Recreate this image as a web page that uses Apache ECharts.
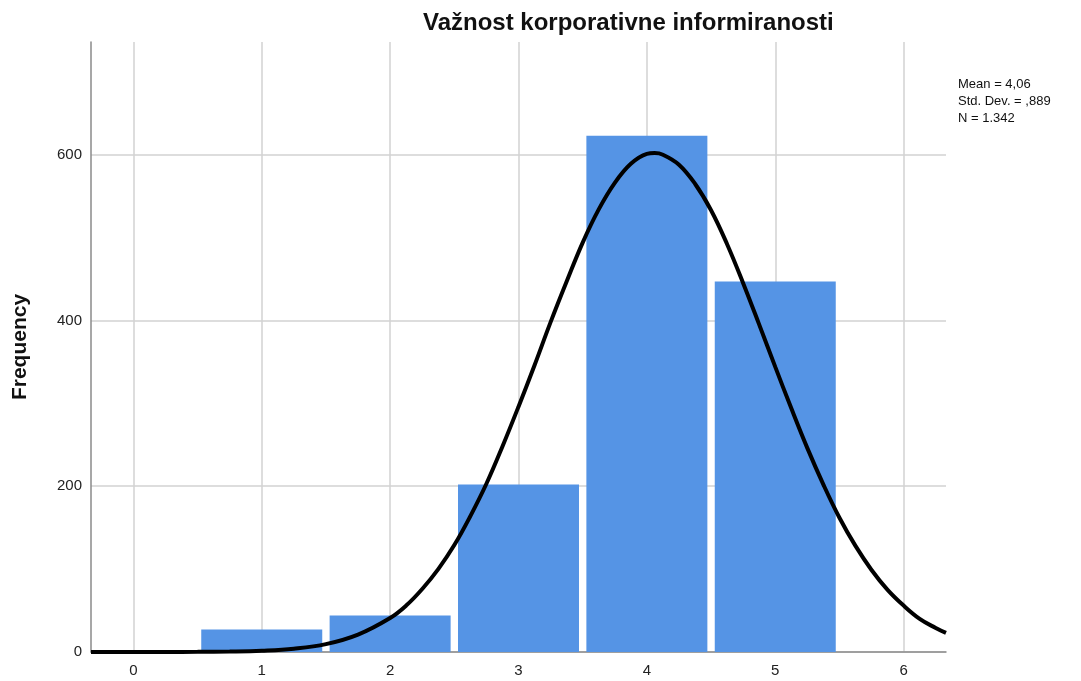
<!DOCTYPE html>
<html>
<head>
<meta charset="utf-8">
<script src="https://cdn.jsdelivr.net/npm/echarts@6/dist/echarts.min.js"></script>
<style>
	html, body { margin: 0; padding: 0; background: #fff; }
	#histChart { width: 1081px; height: 681px; }
</style>
</head>
<body>
<div id="histChart"></div>
<script>
	// histogram bins (value, frequency)
	var binValues = [1, 2, 3, 4, 5];
	var binCounts = [27, 44, 202, 623, 447];

	// fitted normal curve
	var curveX = [-0.33, 0, 0.25, 0.5, 0.75, 1, 1.25, 1.5, 1.75, 2, 2.125, 2.25, 2.375, 2.5, 2.625, 2.75, 2.875, 3, 3.125, 3.25, 3.375, 3.5, 3.625, 3.75, 3.875, 4, 4.06, 4.125, 4.25, 4.375, 4.5, 4.625, 4.75, 4.875, 5, 5.125, 5.25, 5.375, 5.5, 5.625, 5.75, 5.875, 6, 6.125, 6.25, 6.33];
	var curveY = [0, 0, 0.1, 0.2, 0.6, 1.6, 4, 9.5, 21, 41, 56, 76, 100, 129, 164, 203, 248, 296, 346, 398, 447, 494, 534, 566, 589, 601, 602, 600, 588, 565, 533, 492, 445, 395, 344, 294, 246, 202, 162, 128, 99, 75, 56, 40, 29, 23];

	var xTicks = ['0', '1', '2', '3', '4', '5', '6'];
	var yTicks = ['0', '200', '400', '600'];
	var statLines = ['Mean = 4,06', 'Std. Dev. = ,889', 'N = 1.342'];

	var font = 'Arial, "Liberation Sans", sans-serif';
	var gridColor = '#d2d2d2';

	var barData = binValues.map(function (v, i) { return [v, binCounts[i]]; });
	var curveData = curveX.map(function (x, i) { return [x, curveY[i]]; });

	var histChart = echarts.init(document.getElementById('histChart'));
	histChart.setOption({
		animation: false,
		backgroundColor: '#fff',
		title: {
			text: 'Važnost korporativne informiranosti',
			left: 418,
			top: 6,
			textStyle: { fontFamily: font, fontSize: 24, fontWeight: 'bold', color: '#111' }
		},
		grid: { left: 91, right: 135, top: 42, bottom: 29, containLabel: false },
		xAxis: {
			type: 'value',
			min: -0.33,
			max: 6.33,
			splitNumber: 7,
			axisLine: { show: true, onZero: false, lineStyle: { color: '#8a8a8a', width: 1.5 } },
			axisTick: { show: false },
			axisLabel: {
				margin: 11,
				fontFamily: font, fontSize: 15, color: '#222',
				showMinLabel: false, showMaxLabel: false,
				formatter: function (v) {
					return Math.abs(v - Math.round(v)) < 1e-6 ? xTicks[Math.round(v)] || '' : '';
				}
			},
			splitLine: { show: true, showMinLine: false, showMaxLine: false, lineStyle: { color: gridColor, width: 1.5 } }
		},
		yAxis: {
			type: 'value',
			min: 0,
			max: 736,
			interval: 200,
			name: 'Frequency',
			nameLocation: 'middle',
			nameGap: 60,
			nameRotate: 90,
			nameTextStyle: { fontFamily: font, fontSize: 21, fontWeight: 'bold', color: '#111' },
			axisLine: { show: true, onZero: false, lineStyle: { color: '#8a8a8a', width: 1.5 } },
			axisTick: { show: false },
			axisLabel: {
				margin: 9,
				fontFamily: font, fontSize: 15, color: '#222',
				showMaxLabel: false,
				formatter: function (v) { return yTicks[v / 200] || ''; }
			},
			splitLine: { show: true, showMaxLine: false, lineStyle: { color: gridColor, width: 1.5 } }
		},
		graphic: [{
			type: 'text',
			left: 958,
			top: 76,
			style: {
				text: statLines.join('\n'),
				fontFamily: font,
				fontSize: 13,
				lineHeight: 17,
				fill: '#111'
			}
		}],
		series: [
			{
				type: 'bar',
				data: barData,
				barWidth: 121,
				itemStyle: { color: '#5594e5' },
				z: 2
			},
			{
				type: 'line',
				data: curveData,
				smooth: 0.4,
				showSymbol: false,
				lineStyle: { color: '#000', width: 4 },
				z: 3
			}
		]
	});
</script>
</body>
</html>
